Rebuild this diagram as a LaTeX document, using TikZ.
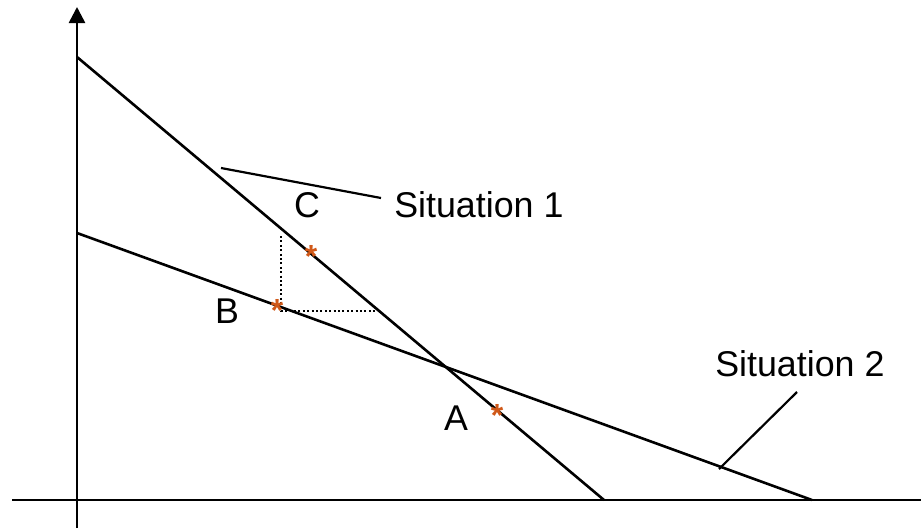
\documentclass[tikz,border=0pt]{standalone}
\usepackage{fontspec}
\setmainfont{Liberation Sans}
\usetikzlibrary{arrows.meta}
\definecolor{markorange}{RGB}{208,88,24}
\begin{document}
\begin{tikzpicture}[x=1pt,y=-1pt,line width=2.6pt,
  lbl/.style={inner sep=0pt,font=\fontsize{35.8}{40}\selectfont},
  starmark/.style={inner sep=0pt,anchor=base,text=markorange,font=\fontsize{32}{34}\selectfont\bfseries}]
\useasboundingbox (0,0) rectangle (921,531);
% axes
\draw[-{Triangle[width=16pt,length=16pt]}] (77,528) -- (77,7);
\draw (12,500) -- (921,500);
% the two lines
\coordinate (c1) at (77,57);
\coordinate (c2) at (604,500);
\coordinate (g1) at (77,233);
\coordinate (g2) at (812,500);
\draw (c1) -- (c2);
\draw (g1) -- (g2);
% dotted step
\draw[dash pattern=on 2pt off 2.4pt,line width=1.8pt] (281,236) -- (281,311) -- (378,311);
% labels
\node[lbl,anchor=base] (labC) at (307,217) {C};
\node[lbl,anchor=base] (labB) at (227,323) {B};
\node[lbl,anchor=base] (labA) at (456,430) {A};
\node[lbl,anchor=base west] (sit1) at (393,217) {Situation 1};
\node[lbl,anchor=base west] (sit2) at (714,376) {Situation 2};
% pointers
\coordinate (p1) at (221,168);
\coordinate (p2) at (719,469);
\draw[line width=2.2pt] (p1) -- ([xshift=-12pt]sit1.west |- 0,198) coordinate (q1);
\draw[line width=2.2pt] (p2) -- (797,392) coordinate (q2);
% points
\node[starmark] (starC) at (311,267.5) {*};
\node[starmark] (starB) at (277,321.5) {*};
\node[starmark] (starA) at (497,426.5) {*};
\end{tikzpicture}
\end{document}
